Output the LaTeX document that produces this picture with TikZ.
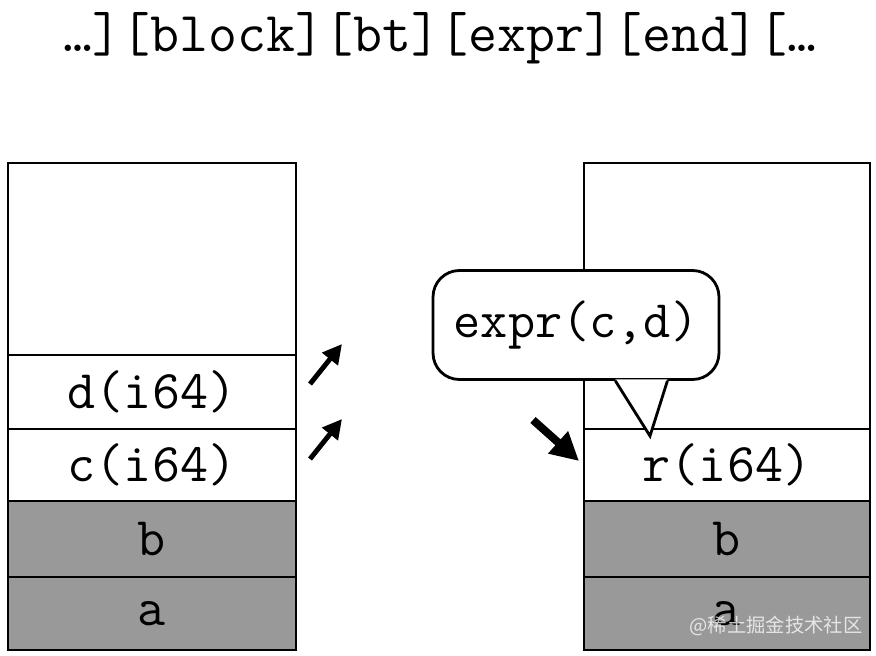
\documentclass[tikz,border=0pt]{standalone}
\usepackage{fontspec}
\newfontfamily\cjkfont{Noto Sans CJK SC}
\usetikzlibrary{arrows.meta}

\begin{document}
\begin{tikzpicture}[x=0.02cm, y=-0.02cm,
    cell/.style={draw, line width=1.6pt, minimum width=5.76cm, inner sep=0pt,
      outer sep=0pt, font=\ttfamily\fontsize{31}{36}\selectfont},
    used/.style={cell, fill=gray!80},
    push/.style={-{Triangle[length=11pt,width=11pt]}, line width=2.8pt}]
  \useasboundingbox (0,0) rectangle (876,656);
  \node[font=\ttfamily\fontsize{32}{38}\selectfont] (code) at (440,38)
    {\ldots][block][bt][expr][end][\ldots};

  % value stack before
  \node[cell, minimum height=3.84cm] (ltop) at (152,259) {};
  \node[cell, minimum height=1.48cm] (ld) at (152,392) {d(i64)};
  \node[cell, minimum height=1.44cm] (lc) at (152,465) {c(i64)};
  \node[used, minimum height=1.52cm] (lb) at (152,539) {b};
  \node[used, minimum height=1.46cm] (la) at (152,613.5) {a};

  % value stack after
  \node[cell, minimum width=5.72cm, minimum height=5.32cm] (rtop) at (727,296) {};
  \node[cell, minimum width=5.72cm, minimum height=1.44cm] (rr) at (727,465) {r(i64)};
  \node[used, minimum width=5.72cm, minimum height=1.52cm] (rb) at (727,539) {b};
  \node[used, minimum width=5.72cm, minimum height=1.46cm] (ra) at (727,613.5) {a};

  % bubble
  \node[draw, fill=white, line width=1.6pt, rounded corners=15pt,
    minimum width=5.72cm, minimum height=2.18cm,
    font=\ttfamily\fontsize{30}{36}\selectfont] (call) at (576,325) {expr(c,d)};
  \coordinate (tip) at (650,436);
  \fill[white] ([xshift=-1.06cm,yshift=0.8pt]call.south east) -- (tip)
    -- ([xshift=-2.1cm,yshift=0.8pt]call.south east) -- cycle;
  \draw[line width=1.6pt, line join=miter]
    ([xshift=-1.06cm]call.south east) -- (tip) -- ([xshift=-2.1cm]call.south east);

  % arrows
  \coordinate (p1) at (310,384);
  \coordinate (p2) at (342,344);
  \coordinate (p3) at (310,459);
  \coordinate (p4) at (342,419);
  \coordinate (p5) at (533,420);
  \coordinate (p6) at (579,461);
  \draw[push] (p1) -- (p2);
  \draw[push] (p3) -- (p4);
  \draw[push, line width=4.5pt, -{Triangle[length=16pt,width=16pt]}] (p5) -- (p6);

  \node[text=white, opacity=0.75, font=\cjkfont\fontsize{11}{13}\selectfont]
    (mark) at (776,626) {@稀土掘金技术社区};
\end{tikzpicture}
\end{document}
